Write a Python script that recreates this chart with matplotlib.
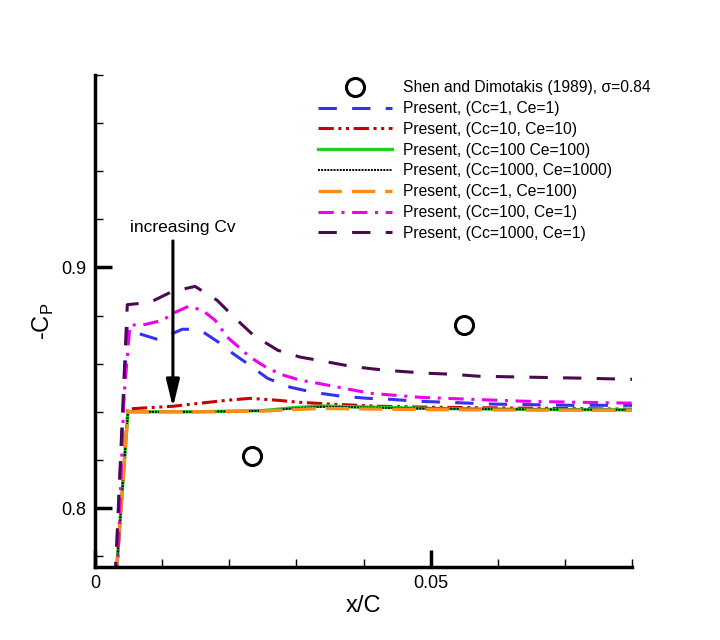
import matplotlib
matplotlib.use("Agg")
import matplotlib.pyplot as plt
from matplotlib.ticker import MultipleLocator

plt.rcParams['font.family'] = ['Liberation Sans', 'DejaVu Sans']

# Experimental data
exp_x = [0.0234, 0.0549]
exp_y = [0.8216, 0.8760]

# Present, (Cc=1, Ce=1) - blue
blue_x = [0.0030, 0.0048, 0.0064, 0.0093, 0.0102, 0.0130, 0.0145, 0.0164, 0.0184, 0.0205, 0.0224, 0.0257, 0.0291, 0.0325, 0.0366, 0.0406, 0.0440, 0.0480, 0.0519, 0.0594, 0.0709, 0.0800]
blue_y = [0.7700, 0.8755, 0.8726, 0.8701, 0.8710, 0.8743, 0.8743, 0.8726, 0.8689, 0.8643, 0.8606, 0.8539, 0.8502, 0.8481, 0.8465, 0.8456, 0.8452, 0.8444, 0.8440, 0.8432, 0.8427, 0.8427]

# Present, (Cc=10, Ce=10) - red
red_x = [0.0031, 0.0049, 0.0116, 0.0157, 0.0197, 0.0231, 0.0272, 0.0302, 0.0351, 0.0425, 0.0500, 0.0649, 0.0800]
red_y = [0.7700, 0.8412, 0.8423, 0.8436, 0.8448, 0.8456, 0.8448, 0.8440, 0.8432, 0.8423, 0.8419, 0.8415, 0.8411]

# Present, (Cc=100 Ce=100) - green
green_x = [0.0031, 0.0049, 0.0150, 0.0250, 0.0300, 0.0340, 0.0400, 0.0500, 0.0650, 0.0800]
green_y = [0.7700, 0.8400, 0.8400, 0.8405, 0.8418, 0.8424, 0.8420, 0.8414, 0.8410, 0.8408]

# Present, (Cc=1000, Ce=1000) - black
black_x = [0.0031, 0.0049, 0.0150, 0.0250, 0.0300, 0.0340, 0.0400, 0.0500, 0.0650, 0.0800]
black_y = [0.7700, 0.8400, 0.8400, 0.8404, 0.8415, 0.8421, 0.8418, 0.8413, 0.8410, 0.8408]

# Present, (Cc=1, Ce=100) - orange
orange_x = [0.0031, 0.0049, 0.0150, 0.0250, 0.0300, 0.0340, 0.0400, 0.0500, 0.0650, 0.0800]
orange_y = [0.7700, 0.8400, 0.8400, 0.8403, 0.8410, 0.8414, 0.8412, 0.8409, 0.8407, 0.8406]

# Present, (Cc=100, Ce=1) - magenta
mag_x = [0.0033, 0.0043, 0.0052, 0.0075, 0.0100, 0.0119, 0.0139, 0.0160, 0.0179, 0.0197, 0.0216, 0.0231, 0.0257, 0.0281, 0.0306, 0.0331, 0.0370, 0.0410, 0.0445, 0.0485, 0.0560, 0.0639, 0.0713, 0.0800]
mag_y = [0.7700, 0.8460, 0.8760, 0.8763, 0.8780, 0.8813, 0.8838, 0.8822, 0.8780, 0.8710, 0.8664, 0.8627, 0.8581, 0.8552, 0.8531, 0.8519, 0.8498, 0.8477, 0.8469, 0.8460, 0.8452, 0.8444, 0.8440, 0.8436]

# Present, (Cc=1000, Ce=1) - purple
pur_x = [0.0030, 0.0048, 0.0082, 0.0115, 0.0149, 0.0182, 0.0209, 0.0236, 0.0272, 0.0306, 0.0333, 0.0381, 0.0418, 0.0455, 0.0496, 0.0533, 0.0570, 0.0645, 0.0721, 0.0800]
pur_y = [0.7700, 0.8845, 0.8855, 0.8900, 0.8921, 0.8863, 0.8788, 0.8718, 0.8656, 0.8627, 0.8614, 0.8589, 0.8577, 0.8568, 0.8560, 0.8556, 0.8548, 0.8544, 0.8540, 0.8535]

# Annotation
arrow_x = 0.0116
arrow_y_start = 0.9110
arrow_y_end = 0.8418
arrow_text = 'increasing Cv'
arrow_text_x = 0.0131
arrow_text_y = 0.9166

legend_labels = [
    "Shen and Dimotakis (1989), \u03c3=0.84",
    "Present, (Cc=1, Ce=1)",
    "Present, (Cc=10, Ce=10)",
    "Present, (Cc=100 Ce=100)",
    "Present, (Cc=1000, Ce=1000)",
    "Present, (Cc=1, Ce=100)",
    "Present, (Cc=100, Ce=1)",
    "Present, (Cc=1000, Ce=1)",
]

fig = plt.figure(figsize=(7.2, 6.4), dpi=100)
ax = fig.add_axes([0.132, 0.114, 0.746, 0.769])

h0, = ax.plot(exp_x, exp_y, linestyle='none', marker='o', markersize=13,
              markerfacecolor='none', markeredgecolor='black', markeredgewidth=2.2)
h1, = ax.plot(blue_x, blue_y, color='#3333ee', lw=2.2, dashes=(6, 5))
h2, = ax.plot(red_x, red_y, color='#cc0000', lw=2.2, dashes=(5, 1.5, 1, 1.5, 1, 1.5))
h3, = ax.plot(green_x, green_y, color='#22cc22', lw=2.4)
h4, = ax.plot(black_x, black_y, color='black', lw=1.4, dashes=(1, 0.6))
h5, = ax.plot(orange_x, orange_y, color='#ff8c1a', lw=2.4, dashes=(7, 3))
h6, = ax.plot(mag_x, mag_y, color='#ee00ee', lw=2.2, dashes=(5, 2.5, 1, 2.5))
h7, = ax.plot(pur_x, pur_y, color='#4b0a50', lw=2.2, dashes=(6, 5))

ax.set_xlim(0, 0.08)
ax.set_ylim(0.7755, 0.98)

ax.xaxis.set_major_locator(MultipleLocator(0.05))
ax.xaxis.set_minor_locator(MultipleLocator(0.01))
ax.yaxis.set_major_locator(MultipleLocator(0.1))
ax.yaxis.set_minor_locator(MultipleLocator(0.02))
ax.xaxis.set_major_formatter(plt.FuncFormatter(lambda v, p: '0' if abs(v) < 1e-12 else f'{v:g}'))
ax.yaxis.set_major_formatter(plt.FuncFormatter(lambda v, p: f'{v:g}'))

for s in ['top', 'right']:
    ax.spines[s].set_visible(False)
for s in ['left', 'bottom']:
    ax.spines[s].set_linewidth(2.5)

ax.tick_params(which='major', direction='in', length=12, width=2.5, labelsize=13, pad=6)
ax.tick_params(which='minor', direction='in', length=6, width=1)

ax.set_xlabel('x/C', fontsize=17, labelpad=2)
ax.set_ylabel(r'-C$_\mathregular{P}$', fontsize=17, labelpad=4)

ax.annotate('', xy=(arrow_x, arrow_y_end), xytext=(arrow_x, arrow_y_start),
            arrowprops=dict(arrowstyle='-|>,head_length=0.83,head_width=0.2',
                            color='black', lw=2.2, mutation_scale=20,
                            shrinkA=0, shrinkB=0))
ax.text(arrow_text_x, arrow_text_y, arrow_text, ha='center', va='center', fontsize=12.5)

leg = ax.legend([h0, h1, h2, h3, h4, h5, h6, h7], legend_labels,
                loc='upper left', bbox_to_anchor=(0.415, 0.989),
                frameon=False, fontsize=11.25, handlelength=4.75,
                handletextpad=0.7, labelspacing=0.37, borderpad=0,
                borderaxespad=0)

fig.savefig('out.png', dpi=100)
